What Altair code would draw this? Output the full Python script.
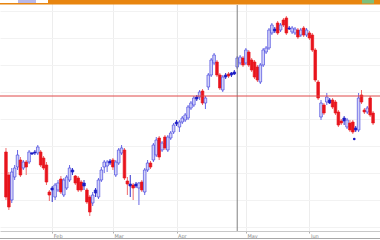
import altair as alt
import pandas as pd

# Daily OHLC (price units), left to right
opens = [88, 65, 40, 63, 73, 80, 72, 78, 78, 86, 87, 87, 88, 82, 75, 48, 50, 43, 50, 61,
         45, 52, 60, 68, 64, 62, 58, 54, 50, 43, 37, 47, 43, 60, 73, 74, 77, 80, 65, 77,
         87, 90, 59, 54, 55, 54, 52, 58, 48, 70, 77, 80, 85, 102, 90, 103, 90, 102, 108, 116,
         113, 118, 120, 122, 132, 135, 141, 143, 149, 137, 153, 165, 177, 178, 165, 150, 163, 166, 165, 166, 173,
         177, 182, 177, 188, 180, 178, 173, 158, 175, 188, 192, 207, 209, 217, 210, 220, 222, 211, 208, 207, 210,
         205, 212, 205, 207, 205, 190, 158, 123, 135, 138, 137, 140, 138, 128, 119, 119, 113, 117, 118,
         110, 110, 145, 130, 128, 142, 127]
highs = [92, 68, 72, 75, 90, 83, 80, 80, 90, 88, 90, 95, 90, 84, 78, 50, 54, 57, 60, 64,
         62, 65, 75, 72, 65, 64, 60, 60, 52, 45, 48, 52, 62, 73, 80, 80, 81, 82, 80, 92,
         95, 92, 63, 65, 57, 58, 58, 60, 72, 80, 79, 97, 103, 104, 99, 105, 105, 109, 117, 120,
         120, 124, 127, 135, 139, 144, 145, 150, 151, 144, 167, 182, 187, 180, 167, 165, 167, 168, 168, 170, 184,
         185, 184, 192, 190, 182, 180, 175, 177, 192, 194, 212, 217, 213, 219, 217, 222, 224, 214, 214, 213, 212,
         212, 214, 212, 209, 207, 192, 160, 140, 137, 147, 142, 142, 140, 130, 121, 124, 122, 120, 120,
         114, 147, 150, 132, 134, 144, 129]
lows = [40, 30, 37, 60, 70, 63, 70, 65, 76, 85, 85, 85, 73, 70, 55, 39, 38, 40, 48, 46,
        43, 50, 58, 65, 55, 48, 48, 50, 36, 24, 34, 43, 41, 58, 67, 68, 75, 70, 63, 75,
        85, 60, 45, 43, 40, 52, 35, 48, 45, 68, 71, 78, 83, 80, 88, 90, 88, 100, 106, 114,
        108, 116, 118, 120, 130, 133, 139, 140, 135, 131, 150, 163, 175, 163, 150, 148, 161, 162, 163, 165, 171,
        175, 173, 175, 173, 168, 161, 158, 156, 173, 186, 190, 205, 207, 205, 208, 213, 205, 210, 206, 205, 201,
        203, 203, 203, 200, 188, 158, 140, 120, 125, 135, 136, 131, 125, 113, 115, 115, 111, 108, 106,
        108, 108, 136, 126, 126, 123, 115]
closes = [43, 33, 68, 72, 85, 65, 78, 73, 88, 87, 88, 93, 75, 72, 58, 45, 52, 55, 57, 48,
          60, 63, 72, 70, 57, 50, 50, 57, 38, 28, 45, 50, 60, 70, 78, 78, 79, 73, 78, 90,
          92, 62, 56, 56, 52, 56, 57, 50, 70, 77, 73, 95, 100, 83, 97, 92, 103, 107, 115, 118,
          118, 122, 125, 133, 137, 142, 143, 148, 137, 142, 165, 180, 185, 165, 152, 163, 165, 164, 167, 168, 182,
          183, 175, 190, 175, 170, 163, 160, 175, 190, 192, 210, 215, 211, 207, 215, 215, 207, 212, 212, 211, 203,
          210, 205, 210, 202, 190, 160, 142, 137, 127, 143, 140, 133, 127, 115, 117, 122, 120, 110, 108,
          112, 142, 138, 128, 132, 125, 117]

month_pos = [16, 37, 59, 83, 105]
month_labels = ["Feb", "Mar", "Apr", "May", "Jun"]
cross_idx = [80]
cross_price = [144]
marker_idx = [120.5]
marker_price = [101]

kinds = []
for o, c in zip(opens, closes):
    if c < o:
        kinds.append("down")
    elif c - o <= 3:
        kinds.append("doji")
    else:
        kinds.append("up")

df = pd.DataFrame({
    "i": list(range(len(opens))),
    "open": opens, "high": highs, "low": lows, "close": closes, "kind": kinds,
})

n = len(opens)
step = 377.0 / (n - 1)
d0 = -1.0 / step
xs = alt.Scale(domain=[d0, d0 + 380.0 / step], nice=False, zero=False)
ys = alt.Scale(domain=[9, 240], nice=False, zero=False)

label_expr = "{" + ",".join(f"'{p}':'{l}'" for p, l in zip(month_pos, month_labels)) + "}[datum.value]"

xaxis = alt.Axis(values=month_pos, labelExpr=label_expr, grid=True, gridColor="#ededed",
                 domainColor="#c8c8c8", tickColor="#b0b0b0", tickSize=2, labelFontSize=5,
                 labelColor="#8a8a8a", labelAlign="left", labelPadding=0, labelOffset=1,
                 title=None, labelFont="DejaVu Sans")
yaxis = alt.Axis(values=[13, 40, 67, 94, 121, 148, 175, 202, 229], grid=True,
                 gridColor="#f2f2f2", labels=False, ticks=False, domain=False, title=None)

X = alt.X("i:Q", scale=xs, axis=xaxis)
kd = ["up", "doji", "down"]

base = alt.Chart(df)
wick = base.mark_rule(strokeWidth=1).encode(
    x=X,
    y=alt.Y("low:Q", scale=ys, axis=yaxis),
    y2="high:Q",
    color=alt.Color("kind:N", scale=alt.Scale(domain=kd, range=["#6868e6", "#3030cc", "#f06a6a"]), legend=None),
)
body = base.mark_bar(size=2.6, strokeWidth=0.7).encode(
    x=X,
    y=alt.Y("open:Q", scale=ys, axis=yaxis),
    y2="close:Q",
    fill=alt.Fill("kind:N", scale=alt.Scale(domain=kd, range=["#d2d2f8", "#1c1cc4", "#e8141c"]), legend=None),
    stroke=alt.Stroke("kind:N", scale=alt.Scale(domain=kd, range=["#4b4be0", "#1c1cc4", "#e8141c"]), legend=None),
)

marker = alt.Chart(pd.DataFrame({"i": marker_idx, "p": marker_price})).mark_circle(
    size=7, color="#1c1cc4", opacity=1).encode(x=X, y=alt.Y("p:Q", scale=ys, axis=yaxis))

vline = alt.Chart(pd.DataFrame({"i": cross_idx})).mark_rule(color="#808080", strokeWidth=1).encode(
    x=X, y=alt.value(5), y2=alt.value(231))
hline = alt.Chart(pd.DataFrame({"p": cross_price})).mark_rule(color="#e04848", strokeWidth=1).encode(
    y=alt.Y("p:Q", scale=ys, axis=yaxis), x=alt.value(0), x2=alt.value(380))

dummy = alt.Chart(pd.DataFrame({"a": [0]}))
top_bar = dummy.mark_rect(color="#e8850f").encode(
    x=alt.value(48), x2=alt.value(380), y=alt.value(0), y2=alt.value(4))
top_line = dummy.mark_rect(color="#e8850f").encode(
    x=alt.value(0), x2=alt.value(380), y=alt.value(3), y2=alt.value(4.5))
top_tag = dummy.mark_rect(color="#b8b8e8").encode(
    x=alt.value(18), x2=alt.value(36), y=alt.value(0), y2=alt.value(3))
top_right = dummy.mark_rect(color="#7cbf7c").encode(
    x=alt.value(362), x2=alt.value(374), y=alt.value(0), y2=alt.value(3.5))
bottom_line = dummy.mark_rule(color="#a8a8a8", strokeWidth=1).encode(
    x=alt.value(0), x2=alt.value(380), y=alt.value(238.5))

chart = alt.layer(
    wick, body, marker, vline, hline, top_bar, top_line, top_tag, top_right, bottom_line
).properties(
    width=380, height=231,
    padding={"left": 0, "top": 0, "right": 0, "bottom": 9},
    autosize=alt.AutoSizeParams(type="none")
).configure_view(stroke=None)

chart.save("out.html", embed_options={"renderer": "svg", "actions": False})
